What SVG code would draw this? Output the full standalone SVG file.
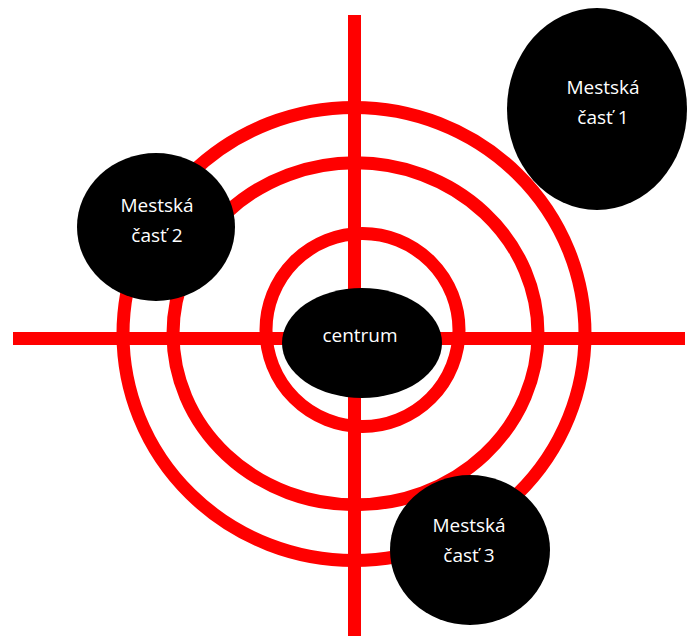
<svg xmlns="http://www.w3.org/2000/svg" width="689" height="636" viewBox="0 0 689 636">
<style>
.ring{fill:none;stroke:#ff0000;stroke-width:13}
.axis{stroke:#ff0000;stroke-width:13}
.node{fill:#000}
.lbl{fill:#fff;font-family:"Open Sans","Liberation Sans",sans-serif;font-size:19px;text-anchor:middle}
</style>
<rect width="689" height="636" fill="#fff"/>
<g id="connectors">
<line class="axis" x1="13" y1="338.5" x2="685" y2="338.5"/>
<line class="axis" x1="354.5" y1="15" x2="354.5" y2="636"/>
<ellipse class="ring" cx="354" cy="334" rx="231" ry="226.5"/>
<ellipse class="ring" cx="355.5" cy="333.8" rx="182.5" ry="171"/>
<ellipse class="ring" cx="362.5" cy="330" rx="96.5" ry="96.5"/>
</g>
<g id="centrum">
<ellipse class="node" cx="362" cy="343" rx="80" ry="55"/>
<text class="lbl" x="360" y="342">centrum</text>
</g>
<g id="mestska-cast-1">
<ellipse class="node" cx="597" cy="109" rx="90" ry="101"/>
<text class="lbl" x="603" y="94">Mestská</text>
<text class="lbl" x="603" y="124">časť 1</text>
</g>
<g id="mestska-cast-2">
<ellipse class="node" cx="156" cy="227" rx="79" ry="74"/>
<text class="lbl" x="157" y="212">Mestská</text>
<text class="lbl" x="157" y="242">časť 2</text>
</g>
<g id="mestska-cast-3">
<ellipse class="node" cx="470" cy="550" rx="80" ry="75"/>
<text class="lbl" x="469" y="532">Mestská</text>
<text class="lbl" x="469" y="562">časť 3</text>
</g>
</svg>
